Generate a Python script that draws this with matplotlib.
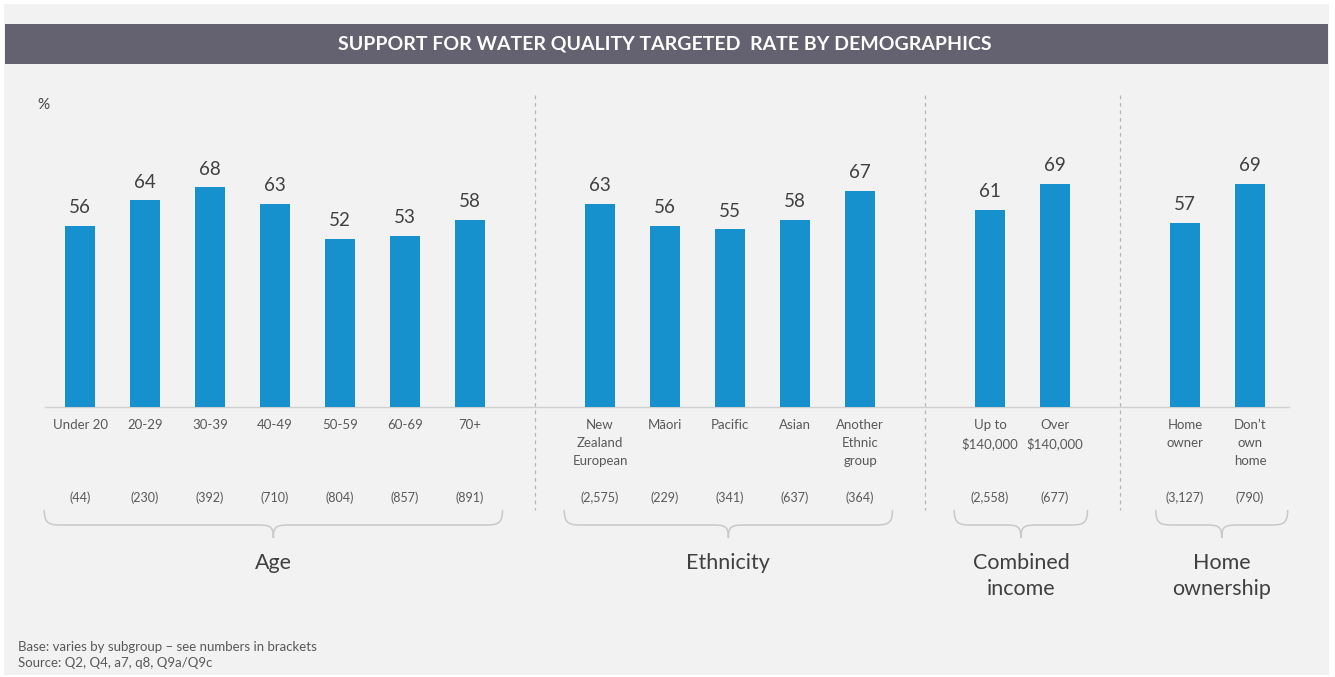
import numpy as np
import matplotlib.pyplot as plt
from matplotlib.path import Path
from matplotlib.patches import PathPatch, Rectangle

# Data
groups = ["Age", "Ethnicity", "Combined\nincome", "Home\nownership"]
categories = [
    ["Under 20", "20-29", "30-39", "40-49", "50-59", "60-69", "70+"],
    ["New\nZealand\nEuropean", "Māori", "Pacific", "Asian", "Another\nEthnic\ngroup"],
    ["Up to\n$140,000", "Over\n$140,000"],
    ["Home\nowner", "Don’t\nown\nhome"],
]
values = [
    [56, 64, 68, 63, 52, 53, 58],
    [63, 56, 55, 58, 67],
    [61, 69],
    [57, 69],
]
bases = [
    ["(44)", "(230)", "(392)", "(710)", "(804)", "(857)", "(891)"],
    ["(2,575)", "(229)", "(341)", "(637)", "(364)"],
    ["(2,558)", "(677)"],
    ["(3,127)", "(790)"],
]

title = "SUPPORT FOR WATER QUALITY TARGETED  RATE BY DEMOGRAPHICS"
notes = ["Base: varies by subgroup – see numbers in brackets",
         "Source: Q2, Q4, a7, q8, Q9a/Q9c"]

plt.rcParams['font.family'] = ['Lato', 'DejaVu Sans']
BLUE = "#1791cd"
TXT = "#404040"
SUB = "#595959"
LINE = "#c9c9c9"

W, H = 1335, 677
fig = plt.figure(figsize=(W / 100, H / 100), dpi=100, facecolor="white")

# background panel and title bar
fig.patches.append(Rectangle((4 / W, 2 / H), 1325 / W, 671 / H, transform=fig.transFigure,
                             facecolor="#f2f2f2", edgecolor="none", zorder=-2))
fig.patches.append(Rectangle((5 / W, 1 - 64 / H), 1323 / W, 40 / H, transform=fig.transFigure,
                             facecolor="#646170", edgecolor="none", zorder=-1))
fig.text(665 / W, 1 - 44 / H, title, color="white", fontsize=14, fontweight="bold",
         ha="center", va="center")

ax = fig.add_axes([0, 0, 1, 1])
ax.set_facecolor("none")
ax.axis("off")

# map: slot i -> 80 + 65*i px, value v -> 407 - 3.23*v px (from top)
px_x, px_y = 65.0, 3.23
ax.set_xlim(-80 / px_x, (W - 80) / px_x)
ax.set_ylim((407 - H) / px_y, 407 / px_y)


def vy(p):
    return (407 - p) / px_y


def brace(x0, x1, y_top, y_mid, y_tip, r=0.3, rt=0.3):
    # curly brace opening upwards, tip pointing down at the middle
    xc = (x0 + x1) / 2
    verts = [(x0, y_top), (x0, y_mid), (x0 + r * 0.3, y_mid), (x0 + r, y_mid),
             (xc - rt, y_mid), (xc - rt * 0.2, y_mid), (xc, y_mid), (xc, y_tip),
             (xc, y_mid), (xc + rt * 0.2, y_mid), (xc + rt, y_mid),
             (x1 - r, y_mid), (x1 - r * 0.3, y_mid), (x1, y_mid), (x1, y_top)]
    codes = [Path.MOVETO, Path.CURVE4, Path.CURVE4, Path.CURVE4,
             Path.LINETO, Path.CURVE4, Path.CURVE4, Path.CURVE4,
             Path.CURVE4, Path.CURVE4, Path.CURVE4,
             Path.LINETO, Path.CURVE4, Path.CURVE4, Path.CURVE4]
    ax.add_patch(PathPatch(Path(verts, codes), facecolor="none", edgecolor=LINE, lw=1.1))


start = 0
dividers = []
for g, (name, cats, vals, ns) in enumerate(zip(groups, categories, values, bases)):
    pos = np.arange(start, start + len(cats))
    ax.bar(pos, vals, width=0.46, color=BLUE, zorder=3)
    for x, v, c, n in zip(pos, vals, cats, ns):
        ax.text(x, v + 3, str(v), ha="center", va="bottom", fontsize=13.5, color=TXT)
        ax.text(x, vy(419), c, ha="center", va="top", fontsize=9.5, color=SUB, linespacing=1.62)
        ax.text(x, vy(498), n, ha="center", va="center", fontsize=9, color=SUB)
    x0, x1 = pos[0] - 0.55, pos[-1] + 0.5
    if g == len(groups) - 1:
        x0, x1 = pos[0] - 0.45, pos[-1] + 0.58
    brace(x0, x1, vy(510), vy(525), vy(538))
    ax.text((x0 + x1) / 2, vy(553), name, ha="center", va="top", fontsize=15.5,
            color=TXT, linespacing=1.4)
    start = pos[-1] + 2
    if g < len(groups) - 1:
        dividers.append(pos[-1] + 1)

for d in dividers:
    ax.plot([d, d], [vy(95), vy(510)], color="#b5b5b5", lw=0.9, ls=(0, (3, 3)), zorder=1)

ax.plot([-0.54, 18.6], [0, 0], color="#d0d0d0", lw=1, zorder=2)
ax.text(-0.57, vy(105), "%", ha="center", va="center", fontsize=11, color=TXT)

for i, line in enumerate(notes):
    fig.text(18 / W, 1 - (647 + 16 * i) / H, line, ha="left", va="center",
             fontsize=9.5, color=SUB)

fig.savefig("out.png", dpi=100, facecolor=fig.get_facecolor())
